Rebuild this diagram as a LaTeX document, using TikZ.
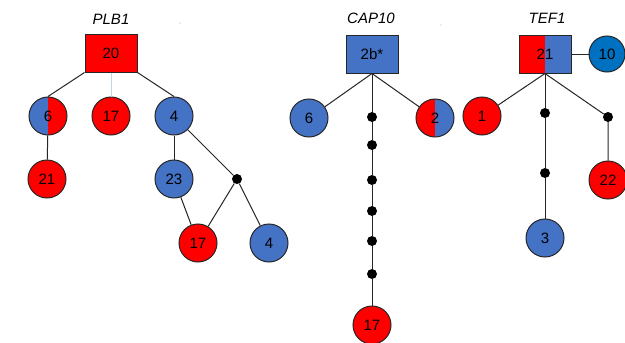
\documentclass[tikz,border=0pt]{standalone}
\usepackage{fontspec}
\setmainfont{Liberation Sans}
\definecolor{myred}{HTML}{FF0000}
\definecolor{myblue}{HTML}{4472C4}
\definecolor{dblue}{HTML}{0070C0}
\definecolor{edgec}{HTML}{262626}
\definecolor{lightedge}{HTML}{BDD7EE}
\begin{document}
\begin{tikzpicture}[x=1pt,y=-1pt,
  hap/.style={circle,draw=edgec,line width=1pt,minimum size=38pt,inner sep=0pt,font=\fontsize{15}{15}\selectfont},
  redc/.style={hap,fill=myred},
  bluec/.style={hap,fill=myblue},
  dbluec/.style={hap,fill=dblue,minimum size=36pt},
  halves/.style 2 args={path picture={
      \fill[#1] (path picture bounding box.south west) rectangle (path picture bounding box.north);
      \fill[#2] (path picture bounding box.south) rectangle (path picture bounding box.north east);}},
  sqbox/.style={rectangle,draw=edgec,line width=1pt,minimum width=52pt,minimum height=38pt,inner sep=0pt,font=\fontsize{15}{15}\selectfont},
  mv/.style={circle,fill=black,inner sep=0pt,minimum size=10pt},
  speck/.style={circle,fill=gray!60,inner sep=0pt,minimum size=1.2pt},
  edge/.style={draw=edgec,line width=1pt},
  title/.style={font=\itshape\fontsize{15}{15}\selectfont}]
\useasboundingbox (0,0) rectangle (625,343);
\clip (0,0) rectangle (625,343);
% ---------- PLB1 ----------
\node[title] (tplb) at (111,19) {PLB1};
\node[speck] (sp1) at (180,23) {};
\node[sqbox,fill=myred] (s20) at (111,53) {20};
\node[hap,halves={myblue}{myred}] (c6a) at (48,116) {6};
\node[redc] (c17a) at (111,116) {17};
\node[bluec] (c4a) at (174,116) {4};
\node[redc] (c21a) at (47,179) {21};
\node[bluec] (c23) at (174,179) {23};
\node[mv] (d1) at (237,179) {};
\node[redc] (c17b) at (198,243) {17};
\node[bluec] (c4b) at (269,243) {4};
\draw[edge] (s20.south west) -- (c6a.north);
\draw[draw=lightedge,line width=1pt] (s20.south) -- (c17a.north);
\draw[edge] (s20.south east) -- (c4a.north);
\draw[edge] (c6a) -- (c21a);
\draw[edge] (c4a) -- (c23);
\draw[edge] (c4a) -- (d1) -- (c4b);
\draw[edge] (c23) -- (c17b);
\draw[edge] (d1) -- (c17b);
% ---------- CAP10 ----------
\node[title] (tcap) at (371,18) {CAP10};
\node[speck] (sp2) at (441,25) {};
\node[sqbox,fill=myblue] (s2b) at (372,54) {2b*};
\node[bluec] (c6b) at (309,118) {6};
\node[hap,halves={myred}{myblue}] (c2) at (435,118) {2};
\node[mv] (m1) at (372,117) {};
\node[mv] (m2) at (372,145) {};
\node[mv] (m3) at (372,180) {};
\node[mv] (m4) at (372,211) {};
\node[mv] (m5) at (372,241) {};
\node[mv] (m6) at (372,274) {};
\node[redc] (c17c) at (372,325) {17};
\draw[edge] (s2b.south) -- (c6b);
\draw[edge] (s2b.south) -- (c2);
\draw[edge] (s2b.south) -- (m1) -- (m2) -- (m3) -- (m4) -- (m5) -- (m6) -- (c17c);
% ---------- TEF1 ----------
\node[title] (ttef) at (547,18) {TEF1};
\node[sqbox,halves={myred}{myblue}] (s21) at (545,54) {21};
\node[dbluec] (c10) at (607,54) {10};
\node[redc] (c1) at (482,116) {1};
\node[mv] (t1) at (545,113) {};
\node[mv] (t2) at (545,173) {};
\node[bluec] (c3) at (545,238) {3};
\node[mv] (t3) at (608,117) {};
\node[redc] (c22) at (608,180) {22};
\draw[edge] (s21) -- (c10);
\draw[edge] (s21.south) -- (c1);
\draw[edge] (s21.south) -- (t1) -- (t2) -- (c3);
\draw[edge] (s21.south) -- (t3) -- (c22);
\end{tikzpicture}
\end{document}
